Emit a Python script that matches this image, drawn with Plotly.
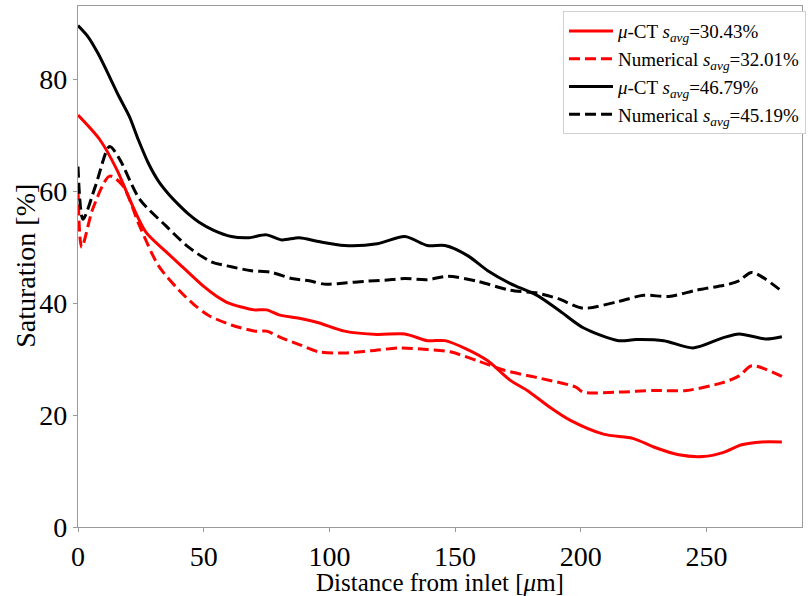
import plotly.graph_objects as go

# Saturation profiles along the sample (distance in micrometres, saturation in %)
ct_high_x = [0, 4, 8, 12.6, 16, 20.5, 24, 28, 32, 36, 40, 44, 48, 54, 61, 68, 75, 81, 88,
             95.7, 106, 119, 130, 139, 146, 155, 163, 172, 182.6, 191.7, 201, 215, 222,
             233, 244.7, 256.5, 263, 273.5, 280]
ct_high_y = [89.6, 87.6, 84.6, 80.4, 77.2, 73.3, 69.2, 65.0, 61.8, 59.5, 57.6, 55.9, 54.5,
             53.0, 51.9, 51.7, 52.2, 51.3, 51.7, 51.0, 50.3, 50.6, 51.9, 50.3, 50.3, 48.5,
             45.8, 43.5, 41.4, 38.6, 35.6, 33.3, 33.5, 33.3, 32.0, 33.8, 34.5, 33.6, 34.0]

num_high_x = [0, 2, 7, 12.6, 16.6, 24.5, 35, 44, 53, 61, 69, 77, 85, 92, 98, 106, 114,
              122, 130, 139, 147, 159, 172, 182.6, 191, 201, 215, 225, 235, 246, 259,
              263, 268, 280]
num_high_y = [64.4, 55.0, 61.0, 68.0, 65.7, 58.6, 53.8, 50.0, 47.4, 46.5, 45.8, 45.5, 44.4,
              44.0, 43.4, 43.6, 43.9, 44.1, 44.4, 44.2, 44.8, 43.9, 42.3, 41.8, 40.8, 39.1,
              40.3, 41.4, 41.2, 42.3, 43.4, 44.0, 45.5, 42.1]

ct_low_x = [0, 8.7, 15.4, 21.8, 27, 35, 42, 50, 55, 60, 65, 70, 75, 80, 88, 95.7, 106,
            119, 130, 139, 146, 155, 163, 172, 178.7, 187.7, 195.7, 209, 221, 229, 239,
            248.6, 256.5, 264, 272, 280]
ct_low_y = [73.6, 69.2, 63.9, 57.3, 52.7, 49.2, 46.3, 43.0, 41.3, 40.0, 39.3, 38.8, 38.8,
            37.9, 37.3, 36.5, 35.0, 34.4, 34.5, 33.3, 33.3, 31.7, 29.7, 26.2, 24.4, 21.4,
            19.1, 16.6, 15.8, 14.3, 12.9, 12.6, 13.3, 14.7, 15.2, 15.2]

num_low_x = [0, 1.5, 6, 12.6, 17.8, 24.5, 32, 40, 46, 52, 61, 70.6, 75, 81, 88, 95.7, 106,
             116.6, 128.5, 139, 148, 159, 169.6, 182.6, 198, 201, 215, 229, 242, 256.5,
             263, 268, 280]
num_low_y = [60.5, 50.0, 57.0, 62.7, 61.0, 53.8, 46.7, 42.4, 39.8, 37.8, 36.1, 35.0, 35.0,
             33.8, 32.6, 31.3, 31.1, 31.5, 32.0, 31.7, 31.3, 29.7, 28.0, 26.7, 25.0, 24.1,
             24.1, 24.4, 24.4, 25.8, 27.0, 28.8, 26.9]

names = [
    "<i>μ</i>-CT <i>s<sub>avg</sub></i>=30.43%",
    "Numerical <i>s<sub>avg</sub></i>=32.01%",
    "<i>μ</i>-CT <i>s<sub>avg</sub></i>=46.79%",
    "Numerical <i>s<sub>avg</sub></i>=45.19%",
]

FONT = "Liberation Serif, Times New Roman, serif"
DASH = "11px,5px"

series = [
    (ct_low_x, ct_low_y, "red", "solid"),
    (num_low_x, num_low_y, "red", DASH),
    (ct_high_x, ct_high_y, "black", "solid"),
    (num_high_x, num_high_y, "black", DASH),
]

fig = go.Figure()
for i, ((xs, ys, color, dash), name) in enumerate(zip(series, names)):
    fig.add_trace(go.Scatter(
        x=xs, y=ys, mode="lines", name=name, legendgroup=f"g{i}",
        line=dict(color=color, width=3, dash=dash, shape="spline", smoothing=0.8),
    ))

axis_common = dict(
    showline=True, mirror=True, linecolor="#9a9a9a", linewidth=1.2,
    ticks="outside", ticklen=4, tickcolor="#9a9a9a", tickwidth=1,
    showgrid=False, zeroline=False,
    tickfont=dict(family=FONT, size=28, color="black"),
)

fig.update_layout(
    width=811, height=596,
    margin=dict(l=78, r=5, t=5, b=65),
    paper_bgcolor="white", plot_bgcolor="white",
    font=dict(family=FONT, color="black"),
    showlegend=True,
    legend=dict(
        x=1.0055, y=0.99, xanchor="right", yanchor="top",
        bgcolor="white", bordercolor="#d0d0d0", borderwidth=1,
        font=dict(family=FONT, size=19, color="black"),
        traceorder="grouped", tracegroupgap=0, itemwidth=44,
    ),
    xaxis=dict(
        range=[0, 288], tickvals=[0, 50, 100, 150, 200, 250],
        title=dict(text="Distance from inlet [<i>μ</i>m]",
                   font=dict(family=FONT, size=25), standoff=2),
        **axis_common,
    ),
    yaxis=dict(
        range=[0, 93.1], tickvals=[0, 20, 40, 60, 80],
        **axis_common,
    ),
    annotations=[dict(
        text="Saturation [%]", textangle=-90, showarrow=False,
        xref="paper", yref="paper", x=-0.0728, y=0.502,
        xanchor="center", yanchor="middle",
        font=dict(family=FONT, size=28, color="black"),
    )],
)

fig.write_html("out.html")
